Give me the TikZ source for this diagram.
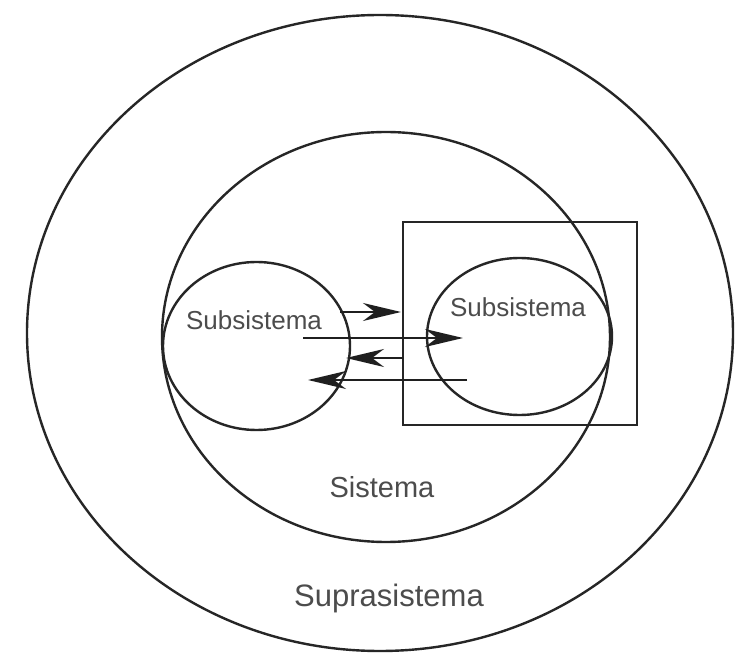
\documentclass[tikz,border=0pt]{standalone}
\usepackage{fontspec}
\setmainfont{Liberation Sans}
\usetikzlibrary{shapes.geometric,arrows.meta}
\begin{document}
\begin{tikzpicture}[x=1pt,y=-1pt,
  ring/.style={draw=black!85,line width=2.4pt,ellipse,inner sep=0pt},
  flow/.style={draw=black!88,line width=1.8pt,arrows={-Stealth[length=38pt,width=18pt,inset=12pt]}},
  lbl/.style={text=black!70,inner sep=0pt}]
\useasboundingbox (0,0) rectangle (740,660);
\fill[white] (0,0) rectangle (740,660);
\node[ring,minimum width=706pt,minimum height=636pt] (supra) at (380,333) {};
\node[ring,minimum width=448pt,minimum height=410pt] (sis) at (386,337) {};
\node[ring,minimum width=187pt,minimum height=168pt] (subA) at (256.5,346) {};
\node[ring,minimum width=185pt,minimum height=157pt] (subB) at (519.5,336.5) {};
\node[draw=black!85,line width=2.4pt,minimum width=234pt,minimum height=203pt,inner sep=0pt] (box) at (520,323.5) {};
\node[lbl,font=\fontsize{26pt}{30pt}\selectfont] (tA) at (254,320) {Subsistema};
\node[lbl,font=\fontsize{26pt}{30pt}\selectfont] (tB) at (518,307) {Subsistema};
\node[lbl,font=\fontsize{29pt}{33pt}\selectfont] (tS) at (382,487) {Sistema};
\node[lbl,font=\fontsize{31pt}{35pt}\selectfont] (tP) at (389,598) {Suprasistema};
\coordinate (a1s) at (340,312); \coordinate (a1e) at (401,312);
\coordinate (a2s) at (303,338); \coordinate (a2e) at (463,338);
\coordinate (a3s) at (403,358); \coordinate (a3e) at (346,358);
\coordinate (a4s) at (467,380); \coordinate (a4e) at (308,380);
\draw[flow] (a1s) -- (a1e);
\draw[flow] (a2s) -- (a2e);
\draw[flow] (a3s) -- (a3e);
\draw[flow] (a4s) -- (a4e);
\end{tikzpicture}
\end{document}
